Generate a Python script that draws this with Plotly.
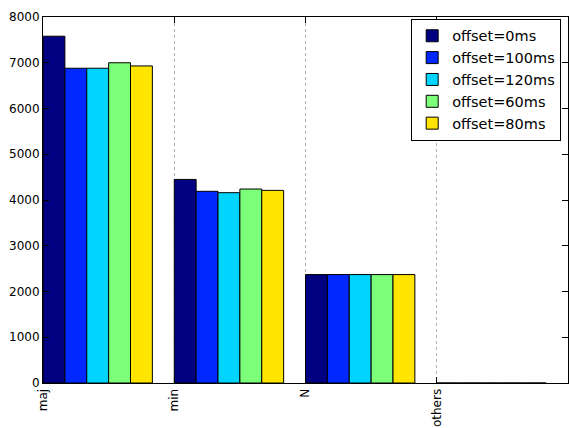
import plotly.graph_objects as go

categories = ["maj", "min", "N", "others"]
series_names = ["offset=0ms", "offset=100ms", "offset=120ms", "offset=60ms", "offset=80ms"]
values = {
    "offset=0ms":   [7580, 4450, 2370, 0],
    "offset=100ms": [6880, 4190, 2370, 0],
    "offset=120ms": [6880, 4160, 2370, 0],
    "offset=60ms":  [7000, 4240, 2370, 0],
    "offset=80ms":  [6930, 4210, 2370, 0],
}
colors = ["#000080", "#0028ff", "#00d4ff", "#7cff79", "#ffe500"]
y_ticks = [0, 1000, 2000, 3000, 4000, 5000, 6000, 7000, 8000]

bar_w = 1 / 6
positions = list(range(len(categories)))

fig = go.Figure()
for i, name in enumerate(series_names):
    fig.add_trace(go.Bar(
        x=positions, y=values[name], name=name,
        width=bar_w, offset=i * bar_w,
        marker=dict(color=colors[i], line=dict(color="black", width=1)),
    ))

fig.update_layout(
    width=570, height=428,
    margin=dict(l=43, r=2, t=17, b=45),
    paper_bgcolor="white", plot_bgcolor="white",
    barmode="overlay",
    font=dict(family="DejaVu Sans", size=12, color="black"),
    showlegend=True,
    legend=dict(
        x=0.987, y=0.995, xanchor="right", yanchor="top",
        bordercolor="black", borderwidth=1, bgcolor="white",
        font=dict(size=14.5, family="DejaVu Sans"),
        tracegroupgap=0,
    ),
)
fig.update_xaxes(
    range=[0, 4], tickmode="array", tickvals=positions, ticktext=categories,
    tickangle=-90, ticks="inside", ticklen=6, tickcolor="black",
    showline=True, linecolor="black", linewidth=1, mirror="ticks",
    showgrid=True, gridcolor="#b0b0b0", griddash="dot", gridwidth=1,
    zeroline=False,
)
fig.update_yaxes(
    range=[0, 8000], tickmode="array", tickvals=y_ticks,
    ticks="inside", ticklen=6, tickcolor="black",
    showline=True, linecolor="black", linewidth=1, mirror="ticks",
    showgrid=False, zeroline=False,
)

fig.write_html("out.html")
